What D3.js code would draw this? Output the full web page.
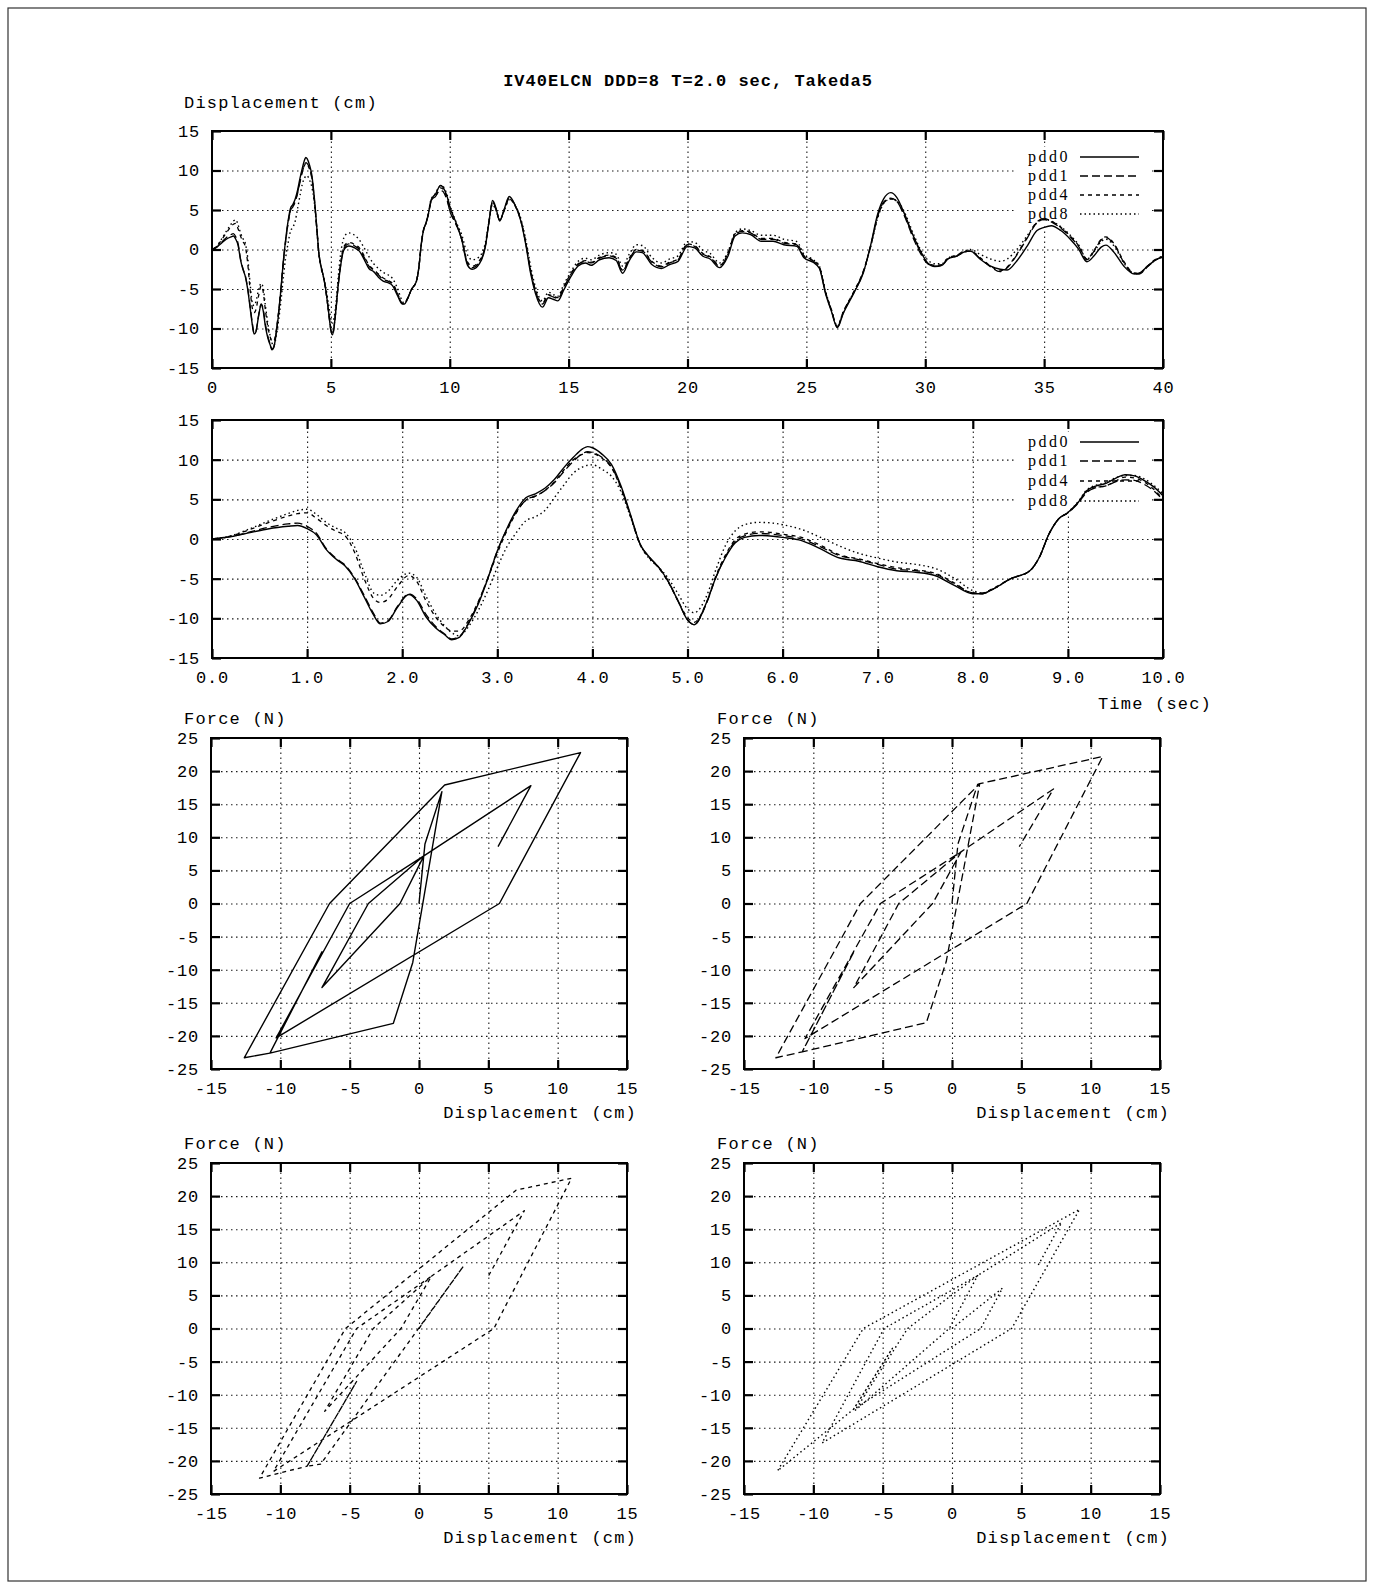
<!DOCTYPE html>
<html><head><meta charset="utf-8">
<script src="https://cdn.jsdelivr.net/npm/d3@7"></script>
<style>body{margin:0;background:#fff}svg{display:block}</style>
</head><body>
<svg id="c" width="1375" height="1583"></svg>
<script>
// ---------------- DATA ----------------
const seriesNames = ["pdd0","pdd1","pdd4","pdd8"];
const titleText = "IV40ELCN DDD=8 T=2.0 sec, Takeda5";

const timeA = [0,0.2,0.4,0.6,0.8, 0.9,1.0,1.1,1.2,1.3, 1.4,1.5,1.6,1.7,1.77, 1.85,1.95,2.07,2.15,2.25,
 2.35,2.45,2.52,2.6,2.7, 2.8,2.9,3.0,3.1,3.2, 3.3,3.4,3.5,3.6,3.7, 3.8,3.9,3.95,4.0,4.1,
 4.2,4.3,4.4,4.5,4.6, 4.7,4.8,4.9,5.0,5.07, 5.2,5.3,5.4,5.5,5.6, 5.75,5.9,6.0,6.2,6.4,
 6.6,6.8,7.0,7.2,7.4, 7.6,7.8,8.0,8.1,8.2, 8.4,8.6,8.7,8.8,8.9, 9.0,9.1,9.2,9.3,9.4,
 9.5,9.6,9.7,9.8,9.9, 10.0];
const timeB = [10.25,10.5,10.75,10.95,11.25, 11.5,11.65,11.8,11.95,12.1, 12.3,12.5,12.75,13.0,13.2,
 13.4,13.6,13.9,14.15,14.35, 14.55,14.8,15.1,15.4,15.7, 15.95,16.3,16.7,17.0,17.27,
 17.55,17.85,18.1,18.5,18.9, 19.25,19.6,20.0,20.3,20.65, 20.95,21.35,21.7,22.0,22.3,
 22.65,23.1,23.6,24.05,24.6, 24.9,25.3,25.55,25.8,26.05, 26.3,26.55,27.0,27.4,27.7,
 28.0,28.25,28.55,28.8,29.1, 29.5,29.8,30.1,30.4,30.7, 30.95,31.35,31.65,31.9,32.3,
 32.75,33.15,33.45,33.85,34.3, 34.7,35.0,35.3,35.7,36.1, 36.45,36.8,37.1,37.4,37.6,
 37.95,38.35,38.8,39.0,39.35, 39.7,40.0];

const pdd0A = [0,0.3,0.8,1.3,1.6, 1.7,1.3,0.5,-1.3,-2.5, -3.4,-5.0,-7.3,-9.6,-10.7, -10.4,-8.6,-7.0,-7.7,-9.8,
 -11.2,-12.1,-12.7,-12.4,-10.6, -8.2,-5.0,-1.5,1.3,3.6, 5.2,5.7,6.4,7.5,9.0, 10.3,11.4,11.65,11.5,10.7,
 9.4,6.7,3.1,-0.6,-2.3, -3.6,-5.4,-7.8,-10.2,-10.8, -8.0,-4.8,-2.3,-0.5,0.2, 0.45,0.35,0.2,-0.2,-1.25,
 -2.4,-2.8,-3.5,-4.0,-4.2, -4.6,-5.8,-6.9,-6.9,-6.4, -5.0,-4.0,-2.3,0.6,2.5, 3.35,4.5,6.1,6.7,7.0,
 7.65,8.1,7.95,7.4,6.6, 5.45];
const pdd1A = [0,0.3,0.9,1.5,1.9, 2.0,1.6,0.7,-1.2,-2.4, -3.3,-4.9,-7.1,-9.4,-10.6, -10.3,-8.5,-6.9,-7.5,-9.5,
 -11.0,-12.0,-12.6,-12.3,-10.5, -8.0,-4.9,-1.5,1.2,3.4, 4.9,5.4,6.1,7.1,8.5, 9.8,10.8,11.0,10.9,10.3,
 9.1,6.5,3.0,-0.6,-2.3, -3.6,-5.4,-7.8,-10.2,-10.8, -8.1,-4.8,-2.2,-0.3,0.4, 0.7,0.6,0.45,0.0,-1.0,
 -2.1,-2.6,-3.2,-3.8,-4.0, -4.4,-5.6,-6.8,-6.9,-6.4, -5.0,-4.0,-2.3,0.6,2.5, 3.3,4.4,5.9,6.5,6.7,
 7.2,7.45,7.4,6.9,6.1, 4.9];
const pdd4A = [0,0.4,1.2,2.1,2.9, 3.2,3.3,2.6,1.7,1.0, 0.4,-1.7,-5.0,-7.5,-8.0, -7.6,-6.0,-4.6,-5.3,-7.8,
 -9.8,-11.1,-11.6,-11.6,-10.2, -7.9,-5.0,-1.8,1.0,3.3, 4.9,5.4,6.1,7.2,8.7, 10.0,10.7,10.9,10.8,10.2,
 9.0,6.4,2.9,-0.7,-2.4, -3.7,-5.5,-7.8,-9.9,-10.5, -8.0,-4.6,-2.0,-0.1,0.6, 0.9,0.8,0.6,0.2,-0.8,
 -2.0,-2.5,-3.1,-3.6,-3.9, -4.3,-5.5,-6.8,-6.8,-6.3, -5.0,-4.0,-2.3,0.6,2.5, 3.3,4.5,6.0,6.5,6.7,
 7.3,7.8,7.7,7.2,6.3, 5.0];
const pdd8A = [0,0.4,1.3,2.3,3.2, 3.6,3.75,3.1,2.1,1.4, 0.8,-1.0,-4.2,-6.8,-7.1, -6.6,-5.2,-4.3,-4.8,-7.2,
 -9.4,-11.0,-11.8,-12.2,-11.0, -9.0,-6.5,-3.6,-1.0,0.8, 2.3,2.8,3.6,5.2,6.8, 8.3,9.1,9.3,9.35,8.8,
 7.9,6.0,2.8,-0.6,-2.5, -3.6,-5.0,-6.9,-8.8,-9.3, -7.2,-3.8,-0.8,1.0,1.8, 2.1,2.0,1.8,1.2,0.2,
 -0.9,-1.8,-2.4,-2.9,-3.2, -3.7,-4.9,-6.5,-6.8,-6.4, -5.0,-4.0,-2.3,0.6,2.5, 3.35,4.6,6.2,6.8,7.1,
 7.7,8.0,8.0,7.6,6.8, 5.7];

const pdd0B = [3.5,1.3,-2.0,-2.5,-1.8, 0.4,3.5,6.2,5.2,3.6, 5.2,6.7,5.6,3.5,0.6, -3.0,-5.5,-7.3,-6.1,-6.3,
 -6.5,-5.1,-3.4,-2.1,-1.7, -2.0,-1.3,-1.05,-1.4,-3.0, -1.4,-0.3,-0.4,-1.9,-2.4, -1.9,-1.5,0.4,0.2,-0.85,
 -1.2,-2.3,-0.85,1.7,2.1, 1.9,1.05,1.05,0.6,0.4, -1.05,-1.65,-2.4,-5.5,-7.8, -9.9,-8.1,-5.5,-2.9,0.5,
 4.5,6.4,7.2,6.6,4.7, 1.7,-0.2,-1.7,-2.15,-2.0, -1.2,-0.8,-0.3,-0.2,-1.2, -2.1,-2.5,-2.6,-1.45,0.5,
 2.4,2.8,3.0,2.4,1.3, 0.05,-1.55,-0.8,0.3,0.55, -0.4,-2.1,-3.1,-3.0,-2.1, -1.3,-1.0];
const pdd1B = [3.3,1.3,-1.8,-2.3,-1.6, 0.5,3.5,6.0,5.1,3.7, 5.1,6.5,5.6,3.6,0.8, -2.7,-5.2,-6.9,-5.8,-6.0,
 -6.2,-4.8,-3.1,-1.9,-1.5, -1.7,-1.1,-0.8,-1.1,-2.7, -1.2,-0.1,-0.2,-1.6,-2.2, -1.7,-1.3,0.6,0.4,-0.6,
 -1.0,-2.1,-0.6,1.9,2.3, 2.1,1.3,1.3,0.8,0.6, -0.9,-1.5,-2.3,-5.4,-7.7, -9.8,-8.0,-5.4,-2.8,0.4,
 4.2,6.0,6.5,6.1,4.4, 1.4,-0.5,-1.8,-2.1,-2.0, -1.2,-0.8,-0.3,-0.2,-1.1, -2.2,-2.8,-2.3,-0.7,1.5,
 3.4,3.8,3.5,2.7,1.6, 0.4,-1.3,-0.2,1.2,1.5, 0.6,-1.6,-3.1,-3.1,-2.2, -1.3,-0.9];
const pdd4B = [3.3,1.4,-1.6,-2.1,-1.4, 0.6,3.5,5.9,5.0,3.7, 5.0,6.4,5.5,3.5,0.8, -2.6,-5.1,-6.8,-5.7,-5.9,
 -6.1,-4.7,-3.0,-1.8,-1.4, -1.6,-1.0,-0.7,-1.0,-2.6, -1.1,0.0,-0.1,-1.5,-2.1, -1.6,-1.2,0.7,0.5,-0.5,
 -0.9,-2.0,-0.5,2.0,2.4, 2.2,1.4,1.4,0.9,0.7, -0.8,-1.4,-2.2,-5.3,-7.6, -9.7,-7.9,-5.3,-2.7,0.4,
 4.1,5.9,6.4,6.1,4.5, 1.6,-0.3,-1.7,-2.0,-1.9, -1.1,-0.7,-0.2,-0.2,-1.0, -2.1,-2.7,-2.2,-0.6,1.6,
 3.5,3.9,3.6,2.8,1.7, 0.5,-1.2,-0.1,1.3,1.6, 0.7,-1.5,-3.0,-3.0,-2.1, -1.2,-0.9];
const pdd8B = [3.6,1.9,-0.7,-1.3,-0.9, 0.9,3.5,5.7,4.9,3.8, 5.0,6.3,5.6,3.8,1.2, -2.1,-4.7,-6.5,-5.4,-5.7,
 -5.9,-4.4,-2.8,-1.5,-1.1, -1.3,-0.7,-0.4,-0.6,-2.1, -0.6,0.6,0.5,-1.0,-1.7, -1.2,-0.8,1.0,0.9,-0.1,
 -0.5,-1.7,-0.3,2.1,2.6, 2.4,1.8,1.8,1.3,1.0, -0.6,-1.3,-2.1,-5.2,-7.6, -9.7,-7.9,-5.4,-2.8,0.3,
 4.0,5.8,6.4,6.2,4.9, 2.0,0.0,-1.3,-1.8,-1.8, -1.1,-0.7,-0.2,0.0,-0.6, -1.2,-1.5,-1.2,0.0,1.8,
 3.4,3.8,3.6,2.9,1.8, 0.6,-1.2,-0.3,1.0,1.3, 0.4,-1.7,-3.0,-3.0,-2.1, -1.3,-0.8];

// Hysteresis loops (displacement cm, force N), vertices in order
const hystD0 = [0,0.43,1.65,-0.45,-1.85,-10.75,-7.0,-10.75,-12.6,-6.45,1.85,11.65,5.8,-10.3,-5.0,0.35,-1.37,-7.0,-3.65,0.35,8.07,5.7];
const hystF0 = [0,9.0,16.9,-8.9,-18.1,-22.6,-7.3,-22.6,-23.3,0,17.9,22.8,0,-20.3,0,7.2,0,-12.7,0,7.2,17.8,8.6];
const hystD1 = [0,0.43,1.85,2.0,-0.42,-1.85,-10.8,-7.05,-10.8,-12.7,-6.6,2.0,10.87,5.4,-10.6,-5.16,0.65,-1.4,-7.08,-3.84,0.65,7.32,4.85];
const hystF1 = [0,9.0,18.0,18.1,-8.8,-18.0,-22.4,-7.2,-22.4,-23.3,0,18.1,22.2,0,-20.4,0,7.8,0,-12.7,0,7.8,17.3,8.6];
const hystD4 = [0,3.2,-7.1,-8.07,-4.5,-8.07,-11.5,-5.3,7.0,11.0,5.4,-10.5,-4.5,0.9,-1.3,-6.8,-3.3,0.9,7.6,5.0];
const hystF4 = [0,9.4,-20.5,-20.8,-8.0,-20.8,-22.6,0,20.9,22.7,0,-21.6,0,7.9,0,-12.5,0,7.9,17.8,7.9];
const hystD8 = [0,3.64,2.07,-7.1,-4.3,-7.1,-12.58,-6.4,9.2,4.3,-9.37,-4.9,1.85,-0.2,-7.0,-3.2,1.85,7.9,6.2];
const hystF8 = [0,6.1,0,-12.2,-3.0,-12.2,-21.5,0,18.0,0,-17.3,0,8.0,0,-12.4,0,8.0,16.0,9.5];

const timeTicks1 = [0,5,10,15,20,25,30,35,40];
const timeTicks2 = [0,1,2,3,4,5,6,7,8,9,10];
const dispTicks = [-15,-10,-5,0,5,10,15];
const forceTicks = [-25,-20,-15,-10,-5,0,5,10,15,20,25];

// ---------------- DRAW ----------------
const svg = d3.select("#c");
const MONO = "'Liberation Mono','Courier New',monospace";
const SERIF = "'Liberation Serif','Times New Roman',serif";
const dashes = {pdd0:null, pdd1:"8,4", pdd4:"4,4", pdd8:"1.5,3"};
const widths = {pdd0:1.4, pdd1:1.3, pdd4:1.3, pdd8:1.4};

svg.append("rect").attr("x",8).attr("y",8).attr("width",1358).attr("height",1573)
  .attr("fill","none").attr("stroke","#333").attr("stroke-width",1.2);

const timeAll = timeA.concat(timeB);
const seriesVals = {
  pdd0: pdd0A.concat(pdd0B), pdd1: pdd1A.concat(pdd1B),
  pdd4: pdd4A.concat(pdd4B), pdd8: pdd8A.concat(pdd8B)
};
const hyst = {
  pdd0:[hystD0,hystF0], pdd1:[hystD1,hystF1], pdd4:[hystD4,hystF4], pdd8:[hystD8,hystF8]
};

let clipId = 0;
function panel(cfg){
  const g = svg.append("g").attr("transform",`translate(${cfg.x0},${cfg.y0})`);
  const x = d3.scaleLinear().domain(cfg.xDom).range([0,cfg.w]);
  const y = d3.scaleLinear().domain(cfg.yDom).range([cfg.h,0]);
  const grid = g.append("g");
  grid.append("g").attr("transform",`translate(0,${cfg.h})`)
    .call(d3.axisBottom(x).tickValues(cfg.xTicks.slice(1,-1)).tickSize(-cfg.h).tickFormat(""));
  grid.append("g")
    .call(d3.axisLeft(y).tickValues(cfg.yTicks.slice(1,-1)).tickSize(-cfg.w).tickFormat(""));
  grid.selectAll(".domain").remove();
  grid.selectAll("line").attr("stroke","#1a1a1a").attr("stroke-width",1.1).attr("stroke-dasharray","1.5,3.5");
  const id = "clip"+(clipId++);
  g.append("clipPath").attr("id",id).append("rect").attr("width",cfg.w).attr("height",cfg.h);
  const legendLayer = g.append("g");
  const plot = g.append("g").attr("clip-path",`url(#${id})`);
  const ax = g.append("g");
  ax.append("g").attr("transform",`translate(0,${cfg.h})`)
    .call(d3.axisBottom(x).tickValues(cfg.xTicks).tickSize(-9).tickPadding(13).tickFormat(cfg.xFmt));
  ax.append("g").call(d3.axisTop(x).tickValues(cfg.xTicks).tickSize(-9).tickFormat(""));
  ax.append("g").call(d3.axisLeft(y).tickValues(cfg.yTicks).tickSize(-9).tickPadding(12).tickFormat(d=>String(d)));
  ax.append("g").attr("transform",`translate(${cfg.w},0)`)
    .call(d3.axisRight(y).tickValues(cfg.yTicks).tickSize(-9).tickFormat(""));
  ax.selectAll(".domain").remove();
  ax.selectAll(".tick line").attr("stroke","#000").attr("stroke-width",2.2);
  ax.selectAll("text").attr("font-family",MONO).attr("font-size",17)
    .attr("letter-spacing",0.8).attr("fill","#000");
  ax.append("rect").attr("width",cfg.w).attr("height",cfg.h)
    .attr("fill","none").attr("stroke","#000").attr("stroke-width",2);
  return {g,x,y,plot,legendLayer,cfg};
}

function monoText(x,y,txt,anchor,bold){
  svg.append("text").attr("x",x).attr("y",y).attr("text-anchor",anchor||"start")
    .attr("font-family",MONO).attr("font-size",17).attr("letter-spacing",bold?1.0:1.2)
    .attr("font-weight",bold?"bold":"normal").attr("fill","#000").text(txt);
}

function legend(p, rowsAbsY){
  const L = p.legendLayer;
  const textRight = 1070 - p.cfg.x0, s0 = 1080 - p.cfg.x0, s1 = 1139 - p.cfg.x0;
  const yTop = rowsAbsY[0] - p.cfg.y0 - 10, yBot = rowsAbsY[3] - p.cfg.y0 + 10;
  L.append("rect").attr("x",textRight-56).attr("y",yTop).attr("width",s1-textRight+66)
    .attr("height",yBot-yTop).attr("fill","#fff");
  seriesNames.forEach((n,i)=>{
    const yy = rowsAbsY[i] - p.cfg.y0;
    L.append("text").attr("x",textRight).attr("y",yy+5).attr("text-anchor","end")
      .attr("font-family",SERIF).attr("font-size",16).attr("letter-spacing",2.5)
      .attr("fill","#000").text(n);
    L.append("line").attr("x1",s0).attr("x2",s1).attr("y1",yy).attr("y2",yy)
      .attr("stroke","#000").attr("stroke-width",widths[n])
      .attr("stroke-dasharray",dashes[n]);
  });
}

function drawSeries(p, tMax){
  const line = d3.line().x(d=>p.x(d[0])).y(d=>p.y(d[1])).curve(d3.curveMonotoneX);
  seriesNames.forEach(n=>{
    const pts = timeAll.map((t,i)=>[t,seriesVals[n][i]]).filter(d=>d[0]<=tMax+1e-9 && d[1]!==undefined);
    p.plot.append("path").attr("d",line(pts)).attr("fill","none").attr("stroke","#000")
      .attr("stroke-width",widths[n]).attr("stroke-dasharray",dashes[n])
      .attr("stroke-linejoin","round");
  });
}

// Title
monoText(688,86,titleText,"middle",true);

// Chart 1: 0-40 s
const c1 = panel({x0:212,y0:131,w:951,h:237,xDom:[0,40],yDom:[-15,15],
  xTicks:timeTicks1,yTicks:[-15,-10,-5,0,5,10,15],xFmt:d=>String(d)});
monoText(184,108,"Displacement (cm)");
legend(c1,[157,176,195,214]);
drawSeries(c1,40);

// Chart 2: 0-10 s
const c2 = panel({x0:212,y0:420,w:951,h:238,xDom:[0,10],yDom:[-15,15],
  xTicks:timeTicks2,yTicks:[-15,-10,-5,0,5,10,15],xFmt:d=>d.toFixed(1)});
monoText(1212,709,"Time (sec)","end");
legend(c2,[442,461,481,501]);
drawSeries(c2,10);

// Hysteresis panels
const hpos = [
  {n:"pdd0",x0:211,y0:738},{n:"pdd1",x0:744,y0:738},
  {n:"pdd4",x0:211,y0:1163},{n:"pdd8",x0:744,y0:1163}
];
hpos.forEach(hp=>{
  const p = panel({x0:hp.x0,y0:hp.y0,w:416,h:331,xDom:[-15,15],yDom:[-25,25],
    xTicks:dispTicks,yTicks:forceTicks,xFmt:d=>String(d)});
  monoText(hp.x0-27,hp.y0-14,"Force (N)");
  monoText(hp.x0+416+10,hp.y0+331+49,"Displacement (cm)","end");
  const [D,F] = hyst[hp.n];
  const pts = D.map((d,i)=>[d,F[i]]);
  p.plot.append("path").attr("d",d3.line().x(d=>p.x(d[0])).y(d=>p.y(d[1]))(pts))
    .attr("fill","none").attr("stroke","#000").attr("stroke-width",widths[hp.n])
    .attr("stroke-dasharray",dashes[hp.n]).attr("stroke-linejoin","round");
});
</script>
</body></html>
